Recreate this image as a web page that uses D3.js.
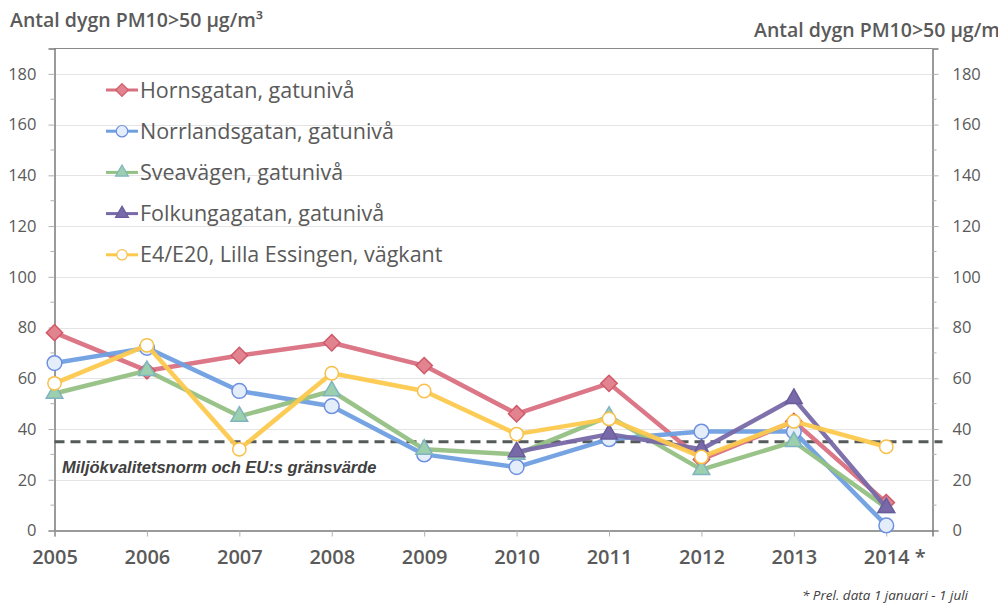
<!DOCTYPE html>
<html>
<head>
<meta charset="utf-8">
<script src="https://cdn.jsdelivr.net/npm/d3@7"></script>
<style>
    body { margin: 0; background: white; }
    svg { display: block; }
</style>
</head>
<body>
<div id="chartId"></div>
<script>

const YEARS = [2005, 2006, 2007, 2008, 2009, 2010, 2011, 2012, 2013, 2014]
const YEAR_LABELS = ["2005", "2006", "2007", "2008", "2009", "2010", "2011", "2012", "2013", "2014 *"]
const Y_TICKS = [0, 20, 40, 60, 80, 100, 120, 140, 160, 180]

const SERIES_NAMES = ["Hornsgatan, gatunivå", "Norrlandsgatan, gatunivå", "Sveavägen, gatunivå",
    "Folkungagatan, gatunivå", "E4/E20, Lilla Essingen, vägkant"]
const HORNSGATAN = [78, 63, 69, 74, 65, 46, 58, 28, 43, 11]
const NORRLANDSGATAN = [66, 72, 55, 49, 30, 25, 36, 39, 39, 2]
const SVEAVAGEN = [54, 63, 45, 55, 32, 30, 45, 24, 35, 9]
const FOLKUNGAGATAN = [null, null, null, null, null, 31, 38, 32, 52, 9]
const E4_E20 = [58, 73, 32, 62, 55, 38, 44, 29, 43, 33]

const LIMIT_VALUE = 35
const LIMIT_LABEL = "Miljökvalitetsnorm och EU:s gränsvärde"
const AXIS_TITLE = "Antal dygn PM10>50 µg/m³"
const FOOTNOTE = "* Prel. data 1 januari - 1 juli"

const WIDTH = 998
const HEIGHT = 604
const TEXT_COLOR = "#5a5a5a"
const AXIS_COLOR = "#7a7a7a"

// line colour, marker fill, marker stroke, marker shape
const STYLES = [
    {line: "#d9707f", fill: "#e2848f", stroke: "#d05a6a", shape: d3.symbolDiamond2, size: 170},
    {line: "#6f9fe0", fill: "#e4eefb", stroke: "#6f8fe0", shape: d3.symbolCircle, size: 170},
    {line: "#93c083", fill: "#9ccfae", stroke: "#7fb4c0", shape: d3.symbolTriangle, size: 120},
    {line: "#7869a8", fill: "#7869a8", stroke: "#6a5c9c", shape: d3.symbolTriangle, size: 120},
    {line: "#fcc94e", fill: "#ffffff", stroke: "#f8c04a", shape: d3.symbolCircle, size: 140}
]

let allSeries = [HORNSGATAN, NORRLANDSGATAN, SVEAVAGEN, FOLKUNGAGATAN, E4_E20]

let svg = d3.select("#chartId").append("svg")
    .attr("width", WIDTH)
    .attr("height", HEIGHT)
    .style("font-family", "'Open Sans', 'DejaVu Sans', sans-serif")

let plotLeft = 54.5
let plotRight = 932.5
let plotTop = 48.5
let plotBottom = 530.5

// x runs half a category past 2014 on the right side
let x = d3.scaleLinear().domain([2005, 2014.5]).range([plotLeft, plotRight])
let y = d3.scaleLinear().domain([0, 190]).range([plotBottom, plotTop])

// gridlines
svg.append("g")
    .selectAll("line")
    .data(Y_TICKS.filter(d => d > 0))
    .join("line")
    .attr("x1", plotLeft)
    .attr("x2", plotRight)
    .attr("y1", d => Math.round(y(d)) + 0.5)
    .attr("y2", d => Math.round(y(d)) + 0.5)
    .attr("stroke", "#e4e4e4")
    .attr("stroke-width", 1)

// frame top
svg.append("line")
    .attr("x1", plotLeft).attr("x2", plotRight)
    .attr("y1", plotTop).attr("y2", plotTop)
    .attr("stroke", "#8a8a8a")

// left and right y axes, minor ticks every 10
let minorTicks = d3.range(10, 190, 20)
let leftAxis = d3.axisLeft(y).tickValues(Y_TICKS).tickSize(6).tickPadding(12)
let rightAxis = d3.axisRight(y).tickValues(Y_TICKS).tickSize(6).tickPadding(14)

function styleAxis(g) {
    g.select(".domain").attr("stroke", AXIS_COLOR).attr("stroke-width", 1.5)
    g.selectAll(".tick line").attr("stroke", "#b0b0b0")
    g.selectAll(".tick text")
        .attr("fill", TEXT_COLOR)
        .style("font-size", "16.5px")
        .style("font-family", "'Open Sans', sans-serif")
}

let gLeft = svg.append("g")
    .attr("transform", "translate(" + plotLeft + ",0)")
    .call(leftAxis)
    .call(styleAxis)
gLeft.selectAll(".minor")
    .data(minorTicks)
    .join("line")
    .attr("class", "minor")
    .attr("x1", -4).attr("x2", 0)
    .attr("y1", d => y(d)).attr("y2", d => y(d))
    .attr("stroke", "#b0b0b0")

let gRight = svg.append("g")
    .attr("transform", "translate(" + plotRight + ",0)")
    .call(rightAxis)
    .call(styleAxis)
gRight.selectAll(".minor")
    .data(minorTicks)
    .join("line")
    .attr("class", "minor")
    .attr("x1", 0).attr("x2", 4)
    .attr("y1", d => y(d)).attr("y2", d => y(d))
    .attr("stroke", "#b0b0b0")

// x axis
let xAxis = d3.axisBottom(x)
    .tickValues(YEARS)
    .tickSize(6)
    .tickPadding(13)
    .tickFormat((d, i) => YEAR_LABELS[i])
let gX = svg.append("g")
    .attr("transform", "translate(0," + plotBottom + ")")
    .call(xAxis)
gX.select(".domain").attr("stroke", AXIS_COLOR).attr("stroke-width", 1.5)
gX.selectAll(".tick line").attr("stroke", "#b0b0b0")
gX.selectAll(".tick text")
    .attr("fill", TEXT_COLOR)
    .style("font-size", "20px")
    .style("font-weight", "600")
    .style("font-family", "'Open Sans', sans-serif")
// the asterisk should not shift the year off its tick
gX.selectAll(".tick text")
    .filter((d, i) => YEAR_LABELS[i].includes("*"))
    .attr("text-anchor", "start")
    .attr("dx", -23)

// axis titles, the right one runs off the edge like in the original
svg.append("text")
    .attr("x", 10)
    .attr("y", 27)
    .attr("fill", TEXT_COLOR)
    .style("font-size", "19.5px")
    .style("font-weight", "600")
    .text(AXIS_TITLE)
svg.append("text")
    .attr("x", 754)
    .attr("y", 37)
    .attr("fill", TEXT_COLOR)
    .style("font-size", "19.5px")
    .style("font-weight", "600")
    .text(AXIS_TITLE)

// limit line
svg.append("line")
    .attr("x1", plotLeft)
    .attr("x2", plotRight + 10)
    .attr("y1", y(LIMIT_VALUE))
    .attr("y2", y(LIMIT_VALUE))
    .attr("stroke", "#555a5a")
    .attr("stroke-width", 3)
    .attr("stroke-dasharray", "10,6")
svg.append("text")
    .attr("x", 62)
    .attr("y", 473)
    .attr("fill", "#404040")
    .style("font-family", "'Liberation Sans', Arial, sans-serif")
    .style("font-size", "16.5px")
    .style("font-weight", "bold")
    .style("font-style", "italic")
    .text(LIMIT_LABEL)

// series lines and markers
let line = d3.line()
    .defined(d => d.v !== null)
    .x(d => x(d.year))
    .y(d => y(d.v))

allSeries.forEach((values, i) => {
    let st = STYLES[i]
    let points = YEARS.map((year, j) => ({year: year, v: values[j]}))
    let g = svg.append("g")
    g.append("path")
        .attr("d", line(points))
        .attr("fill", "none")
        .attr("stroke", st.line)
        .attr("stroke-width", 4.5)
        .attr("stroke-linejoin", "round")
        .attr("opacity", 0.95)
    g.selectAll("path.marker")
        .data(points.filter(d => d.v !== null))
        .join("path")
        .attr("class", "marker")
        .attr("d", d3.symbol().type(st.shape).size(st.size))
        .attr("transform", d => "translate(" + x(d.year) + "," + y(d.v) + ")")
        .attr("fill", st.fill)
        .attr("stroke", st.stroke)
        .attr("stroke-width", 1.5)
})

// legend
let legend = svg.append("g")
    .attr("transform", "translate(106,90)")
let legendRows = legend.selectAll("g")
    .data(SERIES_NAMES)
    .join("g")
    .attr("transform", (d, i) => "translate(0," + (i * 41.2) + ")")
legendRows.append("line")
    .attr("x1", 0).attr("x2", 32)
    .attr("stroke", (d, i) => STYLES[i].line)
    .attr("stroke-width", 3)
legendRows.append("path")
    .attr("d", (d, i) => d3.symbol().type(STYLES[i].shape).size(STYLES[i].size * 0.6)())
    .attr("transform", "translate(16,0)")
    .attr("fill", (d, i) => STYLES[i].fill)
    .attr("stroke", (d, i) => STYLES[i].stroke)
    .attr("stroke-width", 1.2)
legendRows.append("text")
    .attr("x", 34)
    .attr("dy", "0.35em")
    .attr("fill", TEXT_COLOR)
    .style("font-size", "21.5px")
    .text(d => d)

// footnote
svg.append("text")
    .attr("x", 968)
    .attr("y", 600)
    .attr("text-anchor", "end")
    .attr("fill", "#404040")
    .style("font-size", "13.5px")
    .style("font-style", "italic")
    .text(FOOTNOTE)

</script>
</body>
</html>
